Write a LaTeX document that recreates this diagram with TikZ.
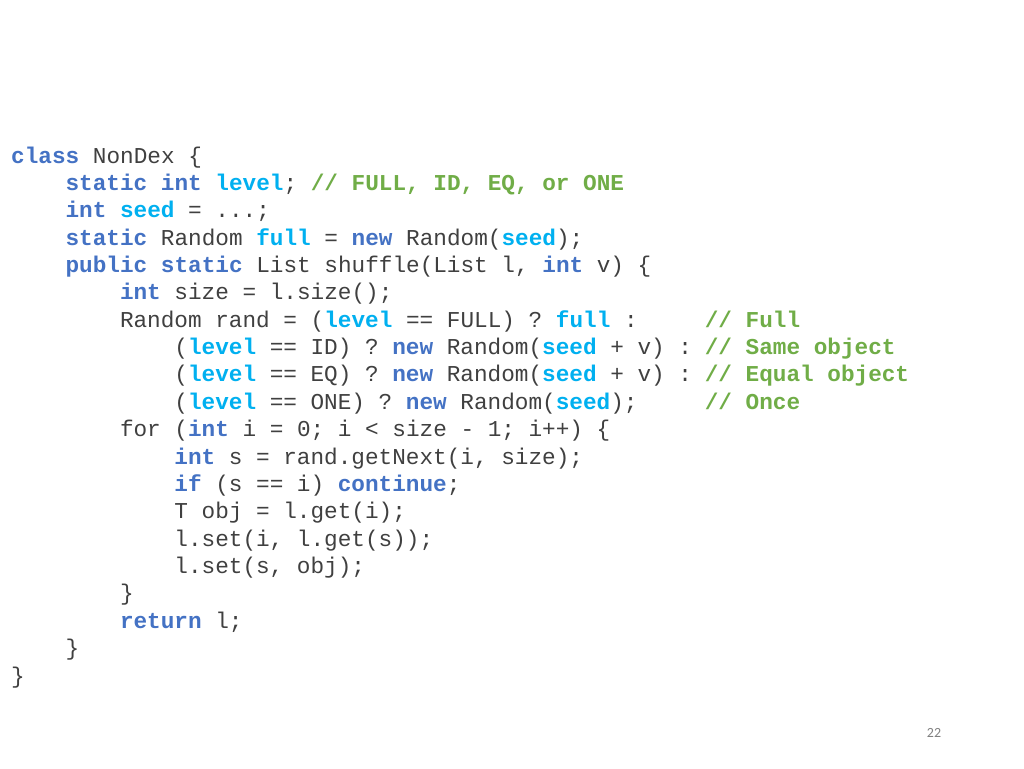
\documentclass[tikz,border=0pt]{standalone}
\usepackage{fontspec}
\setmonofont{Liberation Mono}
\setsansfont{Carlito}
\definecolor{txt}{HTML}{404040}
\definecolor{kwc}{HTML}{4472C4}
\definecolor{fdc}{HTML}{00B0F0}
\definecolor{cmc}{HTML}{70AD47}
\newcommand{\kw}[1]{\textcolor{kwc}{\bfseries #1}}
\newcommand{\fd}[1]{\textcolor{fdc}{\bfseries #1}}
\newcommand{\cm}[1]{\textcolor{cmc}{\bfseries #1}}
\tikzset{code/.style={anchor=base west,inner sep=0pt,text=txt,font=\ttfamily\fontsize{22.7}{27}\selectfont}}
\newcommand{\codeln}[3]{\node[code] (l#1) at ({11pt+13.6pt*#2},{-163pt-27.37pt*#1}) {#3};}
\newcommand{\cmt}[2]{\node[code] (c#1) at ({11pt+13.6pt*51},{-163pt-27.37pt*#1}) {\cm{#2}};}
\begin{document}
\begin{tikzpicture}[x=1pt,y=1pt]
\useasboundingbox[fill=white] (0,0) rectangle (1024,-768);
\codeln{0}{0}{\kw{class} NonDex \{}
\codeln{1}{4}{\kw{static} \kw{int} \fd{level}; \cm{// FULL, ID, EQ, or ONE}}
\codeln{2}{4}{\kw{int} \fd{seed} = ...;}
\codeln{3}{4}{\kw{static} Random \fd{full} = \kw{new} Random(\fd{seed});}
\codeln{4}{4}{\kw{public} \kw{static} List shuffle(List l, \kw{int} v) \{}
\codeln{5}{8}{\kw{int} size = l.size();}
\codeln{6}{8}{Random rand = (\fd{level} == FULL) ? \fd{full} :}
\cmt{6}{// Full}
\codeln{7}{12}{(\fd{level} == ID) ? \kw{new} Random(\fd{seed} + v) :}
\cmt{7}{// Same object}
\codeln{8}{12}{(\fd{level} == EQ) ? \kw{new} Random(\fd{seed} + v) :}
\cmt{8}{// Equal object}
\codeln{9}{12}{(\fd{level} == ONE) ? \kw{new} Random(\fd{seed});}
\cmt{9}{// Once}
\codeln{10}{8}{for (\kw{int} i = 0; i < size - 1; i++) \{}
\codeln{11}{12}{\kw{int} s = rand.getNext(i, size);}
\codeln{12}{12}{\kw{if} (s == i) \kw{continue};}
\codeln{13}{12}{T obj = l.get(i);}
\codeln{14}{12}{l.set(i, l.get(s));}
\codeln{15}{12}{l.set(s, obj);}
\codeln{16}{8}{\}}
\codeln{17}{8}{\kw{return} l;}
\codeln{18}{4}{\}}
\codeln{19}{0}{\}}
\node[text=gray,font=\sffamily\fontsize{14}{16}\selectfont] (pg) at (934,-733) {22};
\end{tikzpicture}
\end{document}
